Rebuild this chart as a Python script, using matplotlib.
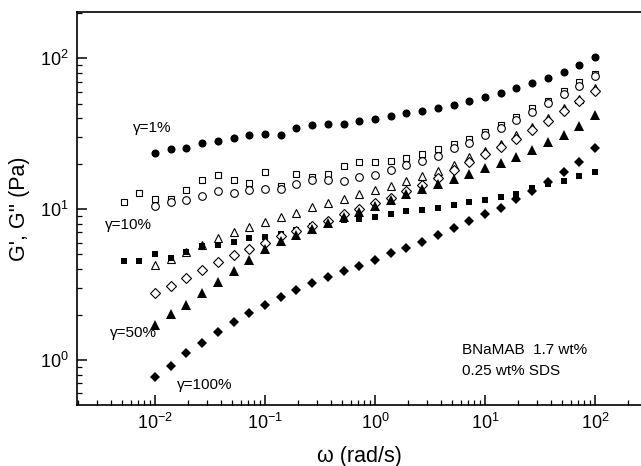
import matplotlib
matplotlib.use("Agg")
from matplotlib import pyplot as plt

plt.rcParams['font.family'] = ['Liberation Sans', 'DejaVu Sans']
plt.rcParams['axes.unicode_minus'] = False

# frequencies (rad/s), 7 points per decade
omega = [0.00518, 0.00720, 0.01, 0.0139, 0.0193, 0.0268, 0.0373, 0.0518, 0.0720,
         0.1, 0.139, 0.193, 0.268, 0.373, 0.518, 0.720,
         1.0, 1.39, 1.93, 2.68, 3.73, 5.18, 7.20,
         10.0, 13.9, 19.3, 26.8, 37.3, 51.8, 72.0, 100.0]

# series starting at 0.01 rad/s
filled_circle = [23.4, 24.9, 25.5, 27.5, 28.3, 29.5, 30.8, 31.4, 31.2, 34.4, 35.8, 36.6, 36.9,
                 38.1, 39.6, 41.3, 43.0, 44.8, 46.9, 49.1, 51.9, 54.9, 58.4, 63.0, 68.6,
                 73.7, 80.8, 89.5, 102.0]
open_circle = [10.4, 11.1, 11.5, 12.2, 13.2, 12.8, 13.4, 13.6, 13.5, 14.7, 15.6, 15.6, 15.3,
               16.2, 16.9, 18.1, 19.6, 20.9, 22.6, 25.2, 27.6, 30.9, 34.2, 38.8, 43.7,
               50.1, 57.5, 65.6, 76.0]
open_triangle = [4.26, 4.64, 5.21, 5.78, 6.40, 7.01, 7.64, 8.24, 8.89, 9.48, 10.3, 10.9, 11.6,
                 12.6, 13.3, 14.2, 15.3, 16.5, 17.9, 19.7, 22.1, 24.2, 26.9, 30.9, 34.9,
                 40.4, 46.4, 53.5, 63.0]
open_diamond = [2.77, 3.10, 3.51, 3.95, 4.44, 4.96, 5.43, 5.98, 6.62, 7.20, 7.68, 8.39, 9.27,
                9.95, 11.0, 11.9, 13.1, 14.5, 16.1, 18.1, 20.5, 23.2, 25.9, 29.2, 33.6,
                38.1, 44.4, 51.9, 60.7]
filled_triangle = [1.71, 2.01, 2.31, 2.79, 3.30, 3.90, 4.59, 5.41, 6.18, 6.68, 7.37, 8.08, 8.85,
                   9.55, 10.5, 11.5, 12.6, 13.5, 14.6, 15.8, 17.2, 18.6, 20.3, 22.3, 24.6,
                   27.7, 30.9, 35.5, 42.1]
filled_diamond = [0.775, 0.913, 1.11, 1.30, 1.53, 1.79, 2.04, 2.31, 2.60, 2.91, 3.22, 3.56, 3.87,
                  4.19, 4.59, 5.09, 5.54, 6.07, 6.73, 7.48, 8.29, 9.29, 10.2, 11.6, 13.2,
                  15.2, 17.5, 20.6, 25.4]

# series starting at 0.005 rad/s
open_square = [11.1, 12.7, 11.6, 11.6, 13.4, 15.6, 16.8, 15.6, 14.8, 17.5, 14.2, 17.2, 16.3,
               17.1, 19.4, 20.4, 20.6, 20.8, 21.7, 23.1, 24.9, 26.9, 29.1, 32.5, 36.0,
               40.5, 46.4, 52.1, 60.7, 69.7, 78.3]
filled_square = [4.55, 4.55, 5.01, 4.74, 5.21, 5.73, 5.82, 6.07, 6.40, 6.56, 6.88, 7.26, 7.71,
                 8.14, 8.46, 8.62, 8.89, 9.31, 9.70, 9.93, 10.2, 10.6, 11.1, 11.5, 12.0,
                 12.6, 13.7, 14.6, 15.3, 16.5, 17.6]

fig = plt.figure(figsize=(6.41, 4.66), dpi=100)
ax = fig.add_axes([0.120, 0.131, 0.880, 0.843])

w1 = omega[2:]
ax.plot(w1, filled_circle, 'o', color='black', ms=5.8, mew=0)
ax.plot(omega, open_square, 's', mfc='white', mec='black', ms=4.5, mew=0.8)
ax.plot(w1, open_circle, 'o', mfc='white', mec='black', ms=5.5, mew=0.8)
ax.plot(w1, open_triangle, '^', mfc='white', mec='black', ms=6, mew=0.8)
ax.plot(omega, filled_square, 's', color='black', ms=4.8, mew=0)
ax.plot(w1, open_diamond, 'D', mfc='white', mec='black', ms=5, mew=0.8)
ax.plot(w1, filled_triangle, '^', color='black', ms=6.5, mew=0)
ax.plot(w1, filled_diamond, 'D', color='black', ms=5.5, mew=0)

ax.set_xscale('log')
ax.set_yscale('log')
ax.set_xlim(0.00195, 262)
ax.set_ylim(0.503, 202)

ax.spines['right'].set_visible(False)
for s in ['left', 'bottom', 'top']:
    ax.spines[s].set_linewidth(1.2)

ax.tick_params(which='both', direction='in', top=False, right=False, labelsize=13)
ax.tick_params(which='major', length=7, width=1.1, pad=6)
ax.tick_params(which='minor', length=3.5, width=0.9)

ax.set_xlabel('ω (rad/s)', fontsize=15.5, labelpad=9)
ax.set_ylabel("G', G'' (Pa)", fontsize=15.5, labelpad=7)

txt = 11
ax.text(0.0063, 34.4, 'γ=1%', fontsize=txt, va='center', ha='left')
ax.text(0.0035, 7.8, 'γ=10%', fontsize=txt, va='center', ha='left')
ax.text(0.0039, 1.51, 'γ=50%', fontsize=txt, va='center', ha='left')
ax.text(0.0158, 0.68, 'γ=100%', fontsize=txt, va='center', ha='left')
ax.text(6.2, 1.16, 'BNaMAB  1.7 wt%', fontsize=txt, va='center', ha='left')
ax.text(6.2, 0.846, '0.25 wt% SDS', fontsize=txt, va='center', ha='left')

fig.savefig('out.png', dpi=100)
